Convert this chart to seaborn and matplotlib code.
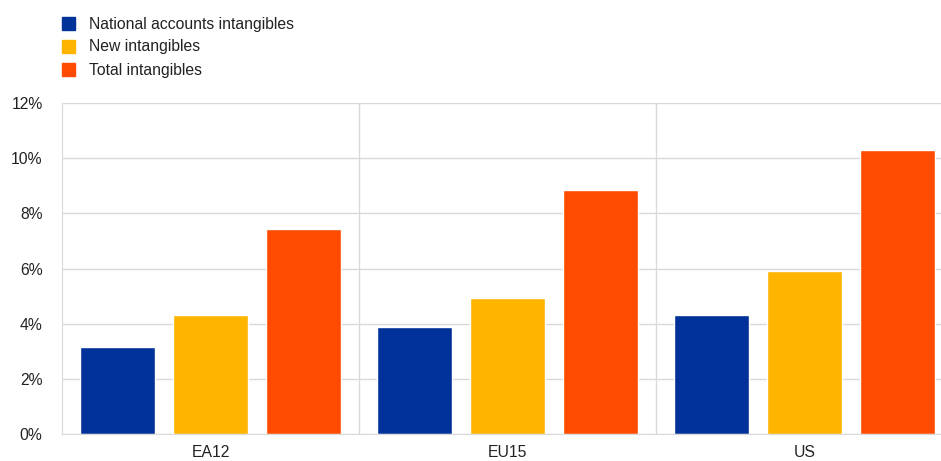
import pandas as pd
import matplotlib.pyplot as plt
import seaborn as sns
from matplotlib.ticker import FuncFormatter, FixedLocator

regions = ['EA12', 'EU15', 'US']
series = ['National accounts intangibles', 'New intangibles', 'Total intangibles']
national = [3.14, 3.88, 4.31]
new = [4.30, 4.93, 5.92]
total = [7.45, 8.84, 10.28]
colors = ['#003299', '#FFB400', '#FF4B00']

rows = []
for name, vals in zip(series, [national, new, total]):
    for r, v in zip(regions, vals):
        rows.append({'region': r, 'series': name, 'value': v})
df = pd.DataFrame(rows)

sns.set_style('white')
plt.rcParams['font.family'] = ['Liberation Sans', 'DejaVu Sans']

fig = plt.figure(figsize=(9.41, 4.61), dpi=100)
ax = fig.add_axes([62 / 941, 1 - 434 / 461, 891 / 941, 331 / 461])

sns.barplot(data=df, x='region', y='value', hue='series', palette=colors,
            width=0.94, gap=0.2, ax=ax, legend=False, saturation=1)

ax.set_xlim(-0.5, 2.5)
ax.set_ylim(0, 12)
ax.set_yticks(range(0, 13, 2))
ax.yaxis.set_major_formatter(FuncFormatter(lambda v, p: f'{int(v)}%'))
ax.xaxis.set_minor_locator(FixedLocator([0.5, 1.5]))
ax.grid(axis='y', color='#d9d9d9', linewidth=1)
ax.grid(axis='x', which='minor', color='#d9d9d9', linewidth=1)
ax.set_axisbelow(True)
for s in ['top', 'right']:
    ax.spines[s].set_visible(False)
ax.spines['left'].set_color('#d9d9d9')
ax.spines['bottom'].set_color('#d9d9d9')
ax.tick_params(axis='both', which='both', length=0, labelsize=11.3, colors='#222222')
ax.tick_params(axis='y', pad=14)
ax.tick_params(axis='x', pad=8)
ax.set_xlabel('')
ax.set_ylabel('')

# legend
for i, (name, c) in enumerate(zip(series, colors)):
    y = 24 + i * 23
    fig.patches.append(plt.Rectangle((62 / 941, 1 - (y + 6) / 461), 13 / 941, 13 / 461,
                                     transform=fig.transFigure, color=c))
    fig.text(89 / 941, 1 - y / 461, name, fontsize=11.3, va='center', color='#222222')

fig.savefig('out.png', dpi=100)
